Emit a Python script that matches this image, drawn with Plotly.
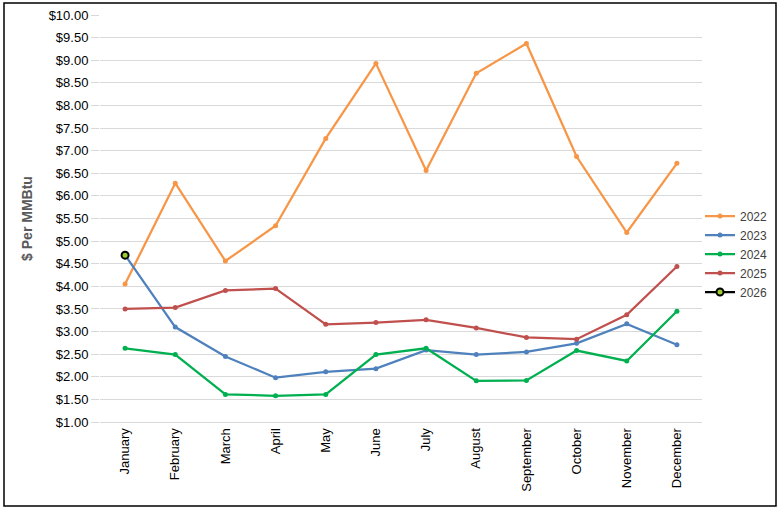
import plotly.graph_objects as go

months = ["January", "February", "March", "April", "May", "June", "July",
          "August", "September", "October", "November", "December"]
y2022 = [4.05, 6.28, 4.56, 5.34, 7.27, 8.93, 6.56, 8.71, 9.37, 6.87, 5.19, 6.72]
y2023 = [4.69, 3.10, 2.45, 1.98, 2.11, 2.18, 2.59, 2.49, 2.55, 2.74, 3.17, 2.71]
y2024 = [2.63, 2.49, 1.61, 1.58, 1.61, 2.49, 2.63, 1.91, 1.92, 2.58, 2.35, 3.45]
y2025 = [3.50, 3.53, 3.91, 3.95, 3.16, 3.20, 3.26, 3.08, 2.87, 2.83, 3.37, 4.44]
y2026 = [4.69]
tick_vals = [1 + 0.5 * i for i in range(19)]
tick_text = ["$%.2f" % v for v in tick_vals]

series = [
    ("2022", y2022, "#F79646"),
    ("2023", y2023, "#4F81BD"),
    ("2024", y2024, "#00B050"),
    ("2025", y2025, "#C0504D"),
]

fig = go.Figure()
for name, vals, col in series:
    fig.add_trace(go.Scatter(
        x=months[:len(vals)], y=vals, name=name, mode="lines+markers",
        line=dict(color=col, width=2.25),
        marker=dict(color=col, size=5),
    ))
fig.add_trace(go.Scatter(
    x=months[:len(y2026)], y=y2026, name="2026", mode="lines+markers",
    line=dict(color="#000000", width=2.25),
    marker=dict(color="#9ACD32", size=7, line=dict(color="#000000", width=2)),
))

W, H = 780, 510
L, R, T, B = 100, 78, 15, 88
pw, ph = W - L - R, H - T - B

fig.update_layout(
    width=W, height=H,
    margin=dict(l=L, r=R, t=T, b=B, autoexpand=False),
    paper_bgcolor="white", plot_bgcolor="white",
    font=dict(family="Liberation Sans, Arial", size=13, color="#000000"),
    showlegend=True,
    legend=dict(x=(700 - L) / pw, y=(H - B - 254) / ph, xanchor="left", yanchor="middle",
                font=dict(size=12, color="#404040"), tracegroupgap=0,
                itemwidth=30, bgcolor="rgba(0,0,0,0)"),
    xaxis=dict(
        type="category", categoryorder="array", categoryarray=months,
        tickangle=-90, showgrid=False, showline=True, linecolor="#D9D9D9",
        linewidth=1, ticks="", tickfont=dict(size=13, color="#000000"),
        range=[-0.5, 11.5],
    ),
    yaxis=dict(
        range=[1, 10], tickvals=tick_vals, ticktext=tick_text,
        showgrid=True, gridcolor="#D9D9D9", gridwidth=1,
        zeroline=False, showline=False, ticks="outside", ticklen=8,
        tickcolor="#D9D9D9", tickfont=dict(size=13, color="#000000"),
        title=dict(text="<b>$ Per MMBtu</b>", font=dict(size=14, color="#595959"), standoff=12),
    ),
)

fig.add_shape(type="rect", xref="paper", yref="paper",
              x0=(4 - L) / pw, x1=(776 - L) / pw,
              y0=(H - B - 506) / ph, y1=(H - B - 3) / ph,
              line=dict(color="#000000", width=1.5), fillcolor="rgba(0,0,0,0)", layer="below")

fig.write_html("out.html", config={"displayModeBar": False},
               post_script="document.body.style.margin='0';document.body.style.overflow='hidden';")
